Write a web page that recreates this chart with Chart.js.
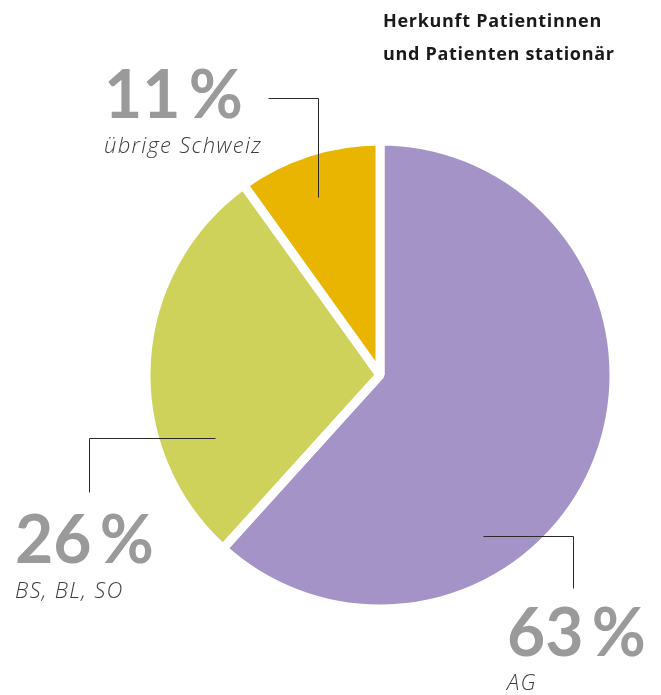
<!DOCTYPE html>
<html>
<head>
<meta charset="utf-8">
<script src="https://cdn.jsdelivr.net/npm/chart.js@4/dist/chart.umd.min.js"></script>
<style>
  html, body { margin: 0; padding: 0; background: #fff; }
  #wrap { width: 661px; height: 695px; position: relative; }
</style>
</head>
<body>
<div id="wrap"><canvas id="herkunftChart"></canvas></div>
<script>
const regionen = ["AG", "BS, BL, SO", "übrige Schweiz"];
// printed percentages
const anteilLabels = ["63 %", "26 %", "11 %"];
// slice sizes as they are drawn in the picture (sweep measured, in %)
const sektoren = [61.7, 28.4, 9.9];
const farben = ["#a393c6", "#ced25a", "#eab500"];
const titelZeilen = ["Herkunft Patientinnen", "und Patienten stationär"];

// where the callout lines start inside each slice (angle in deg from top, share of radius)
// and where the labels sit
const callouts = [
    { angle: 147.4, r: 0.816, path: "h", elbow: 573, end: 588, textX: 507, numY: 656, nameY: 690 },
    { angle: 249.1, r: 0.755, path: "h", elbow: 89, end: 492, textX: 15, numY: 563, nameY: 598 },
    { angle: 340.8, r: 0.806, path: "v", elbow: 98, end: 268, textX: 104, numY: 118, nameY: 153 }
];

const calloutPlugin = {
    id: "callouts",
    afterDraw(chart) {
        const ctx = chart.ctx;
        const meta = chart.getDatasetMeta(0);
        ctx.save();

        // title
        ctx.fillStyle = "#1a1a1a";
        ctx.font = "bold 18px 'Open Sans'";
        ctx.letterSpacing = "0.7px";
        ctx.textBaseline = "alphabetic";
        ctx.textAlign = "left";
        titelZeilen.forEach((t, i) => ctx.fillText(t, 383, 27 + i * 33));

        meta.data.forEach((arc, i) => {
            const c = callouts[i];
            const a = (c.angle - 90) * Math.PI / 180;
            const ax = arc.x + Math.cos(a) * arc.outerRadius * c.r;
            const ay = arc.y + Math.sin(a) * arc.outerRadius * c.r;

            ctx.strokeStyle = "#2b2b2b";
            ctx.lineWidth = 1;
            ctx.beginPath();
            ctx.moveTo(Math.round(ax) + 0.5, Math.round(ay) + 0.5);
            if (c.path === "h") {
                ctx.lineTo(c.elbow + 0.5, Math.round(ay) + 0.5);
                ctx.lineTo(c.elbow + 0.5, c.end + 0.5);
            } else {
                ctx.lineTo(Math.round(ax) + 0.5, c.elbow + 0.5);
                ctx.lineTo(c.end + 0.5, c.elbow + 0.5);
            }
            ctx.stroke();

            ctx.letterSpacing = "0px";
            ctx.fillStyle = "#999a99";
            ctx.font = "bold 66px Lato";
            ctx.fillText(anteilLabels[i].replace(" ", "\u2009"), c.textX, c.numY);

            ctx.letterSpacing = "1.3px";
            ctx.fillStyle = "#3c3c3c";
            ctx.font = "italic 300 22px 'Open Sans'";
            ctx.fillText(regionen[i], c.textX, c.nameY);
        });
        ctx.restore();
    }
};

new Chart(document.getElementById("herkunftChart"), {
    type: "pie",
    data: {
        labels: regionen,
        datasets: [{
            data: sektoren,
            backgroundColor: farben,
            borderColor: "#ffffff",
            borderWidth: 9
        }]
    },
    options: {
        responsive: true,
        maintainAspectRatio: false,
        animation: false,
        radius: 234,
        layout: { padding: { left: 99, right: 0, top: 55, bottom: 0 } },
        plugins: {
            legend: { display: false },
            tooltip: { enabled: false }
        }
    },
    plugins: [calloutPlugin]
});
</script>
</body>
</html>
